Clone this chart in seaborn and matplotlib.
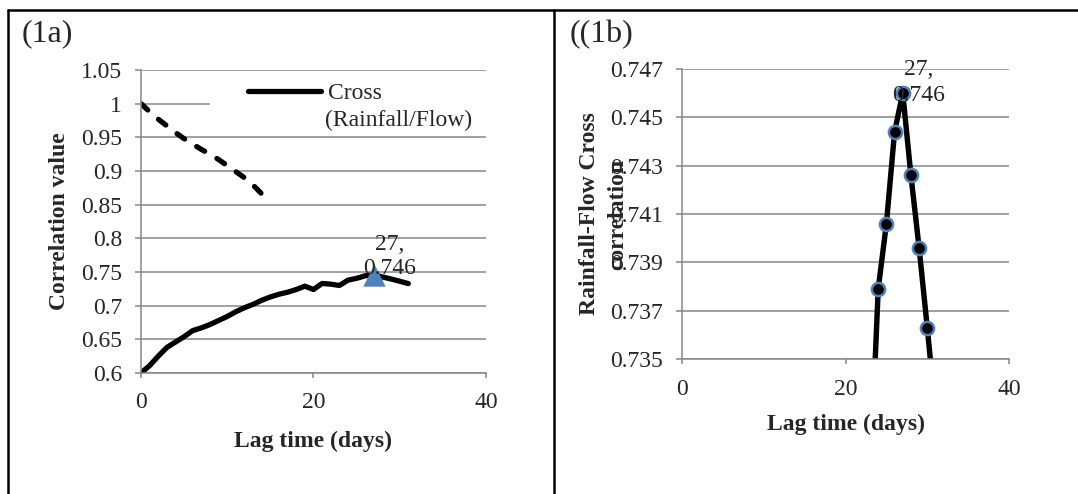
"""
Rainfall / flow cross-correlation: (1a) full lag range, (1b) zoom around the peak.
"""

import matplotlib
matplotlib.use("Agg")
import matplotlib.pyplot as plt
from matplotlib.lines import Line2D
from matplotlib.patches import Rectangle
import seaborn as sns

# ── data ──────────────────────────────────────────────────────
cross_lags = list(range(0, 32))
cross_corr = [0.600, 0.611, 0.625, 0.638, 0.646, 0.654, 0.663, 0.667,
              0.672, 0.678, 0.684, 0.691, 0.697, 0.702, 0.708, 0.713,
              0.717, 0.720, 0.724, 0.729, 0.724, 0.733, 0.732, 0.730,
              0.7379, 0.7406, 0.7444, 0.7460, 0.7426, 0.7396, 0.7363, 0.7328]

auto_lags = list(range(0, 15))
auto_corr = [1.000, 0.988, 0.977, 0.967, 0.957, 0.948, 0.940, 0.932,
             0.925, 0.917, 0.908, 0.899, 0.890, 0.879, 0.866]

peak_lag = 27
peak_corr = 0.746
peak_label = "27,\n0.746"

xticks = [0, 20, 40]
yticks_a = [0.6, 0.65, 0.7, 0.75, 0.8, 0.85, 0.9, 0.95, 1, 1.05]
yticks_b = [0.735, 0.737, 0.739, 0.741, 0.743, 0.745, 0.747]

# ── style ─────────────────────────────────────────────────────
sns.set_style("white")
plt.rcParams["font.family"] = ["Liberation Serif", "DejaVu Serif"]
plt.rcParams["font.size"] = 17

GRID = "#868686"
BLUE = "#4F81BD"
FS = 17

fig = plt.figure(figsize=(10.78, 4.94), dpi=100)
ax_a = fig.add_axes([0.1308, 0.2449, 0.3200, 0.6134])
ax_b = fig.add_axes([0.6327, 0.2733, 0.3033, 0.5870])


def style_axes(ax, yticks, ytick_fmt, xpad):
    ax.set_xlim(0, 40)
    ax.set_xticks(xticks)
    ax.set_ylim(yticks[0], yticks[-1])
    ax.set_yticks(yticks)
    ax.set_yticklabels([ytick_fmt(v) for v in yticks])
    ax.grid(axis="y", color=GRID, linewidth=1.1)
    ax.grid(axis="x", visible=False)
    ax.set_axisbelow(True)
    for side in ("top", "right"):
        ax.spines[side].set_visible(False)
    for side in ("left", "bottom"):
        ax.spines[side].set_color(GRID)
        ax.spines[side].set_linewidth(1.1)
    ax.tick_params(axis="y", direction="out", length=4.5, width=1.1,
                   color=GRID, pad=9, labelsize=FS, left=True)
    ax.tick_params(axis="x", direction="out", length=3.5, width=1.1,
                   color=GRID, pad=xpad, labelsize=FS, bottom=True)


# ── (1a) ──────────────────────────────────────────────────────
sns.lineplot(x=auto_lags, y=auto_corr, ax=ax_a, color="black",
             linewidth=3.8)
dash_line = ax_a.lines[-1]
dash_line.set_dashes((1.75, 2.7))
dash_line.set_dash_capstyle("round")

sns.lineplot(x=cross_lags, y=cross_corr, ax=ax_a, color="black",
             linewidth=3.8)
cross_line = ax_a.lines[-1]
cross_line.set_solid_capstyle("round")

sns.scatterplot(x=[peak_lag], y=[peak_corr], ax=ax_a, marker="^", s=260,
                color=BLUE, linewidth=0, zorder=3)

style_axes(ax_a, yticks_a, lambda v: f"{v:g}", xpad=10)

ax_a.annotate(peak_label, xy=(peak_lag, peak_corr), xytext=(11.5, -3),
              textcoords="offset points", ha="center", va="bottom",
              fontsize=FS)

# white block behind the legend (hides the 1.0 grid line, as in the source)
ax_a.add_patch(Rectangle((0.2, 0.86), 0.8, 0.06, transform=ax_a.transAxes,
                         facecolor="white", edgecolor="none", zorder=1))
ax_a.legend(handles=[Line2D([], [], color="black", linewidth=3.8,
                            solid_capstyle="round")],
            labels=["Cross"], loc="upper left",
            bbox_to_anchor=(0.31, 0.958), frameon=False, borderpad=0,
            borderaxespad=0, handlelength=3.1, handletextpad=0.3,
            fontsize=FS)
ax_a.text(0.533, 0.835, "(Rainfall/Flow)", transform=ax_a.transAxes,
          ha="left", va="center", fontsize=FS)

ax_a.set_xlabel("Lag time (days)", fontsize=FS, fontweight="bold")
ax_a.set_ylabel("Correlation value", fontsize=FS, fontweight="bold")
ax_a.xaxis.set_label_coords(0.5, -0.19)
ax_a.yaxis.set_label_coords(-0.205, 0.5)

# ── (1b) ──────────────────────────────────────────────────────
sns.lineplot(x=cross_lags, y=cross_corr, ax=ax_b, color="black",
             linewidth=3.9, marker="o", markersize=9.5,
             markerfacecolor="black", markeredgecolor=BLUE,
             markeredgewidth=1.8)

style_axes(ax_b, yticks_b, lambda v: f"{v:.3f}", xpad=11)

ax_b.annotate(peak_label, xy=(peak_lag, peak_corr), xytext=(11.5, -9),
              textcoords="offset points", ha="center", va="bottom",
              fontsize=FS, linespacing=1.3)

ax_b.set_xlabel("Lag time (days)", fontsize=FS, fontweight="bold")
ax_b.set_ylabel("Rainfall-Flow Cross\ncorrelation", fontsize=FS,
                fontweight="bold", linespacing=1.45)
ax_b.xaxis.set_label_coords(0.5, -0.19)
ax_b.yaxis.set_label_coords(-0.165, 0.5)

# ── panel labels and table borders ────────────────────────────
fig.text(0.0204, 0.931, "(1a)", fontsize=23, va="center", ha="left")
fig.text(0.528, 0.931, "((1b)", fontsize=23, va="center", ha="left")

top_y = 1 - 10 / 494
fig.add_artist(Line2D([8 / 1078, 1], [top_y, top_y], color="black",
                      linewidth=1.8, transform=fig.transFigure))
fig.add_artist(Line2D([8 / 1078, 8 / 1078], [0, top_y], color="black",
                      linewidth=1.8, transform=fig.transFigure))
fig.add_artist(Line2D([554 / 1078, 554 / 1078], [0, top_y], color="black",
                      linewidth=1.8, transform=fig.transFigure))

fig.savefig("out.png", dpi=100)
